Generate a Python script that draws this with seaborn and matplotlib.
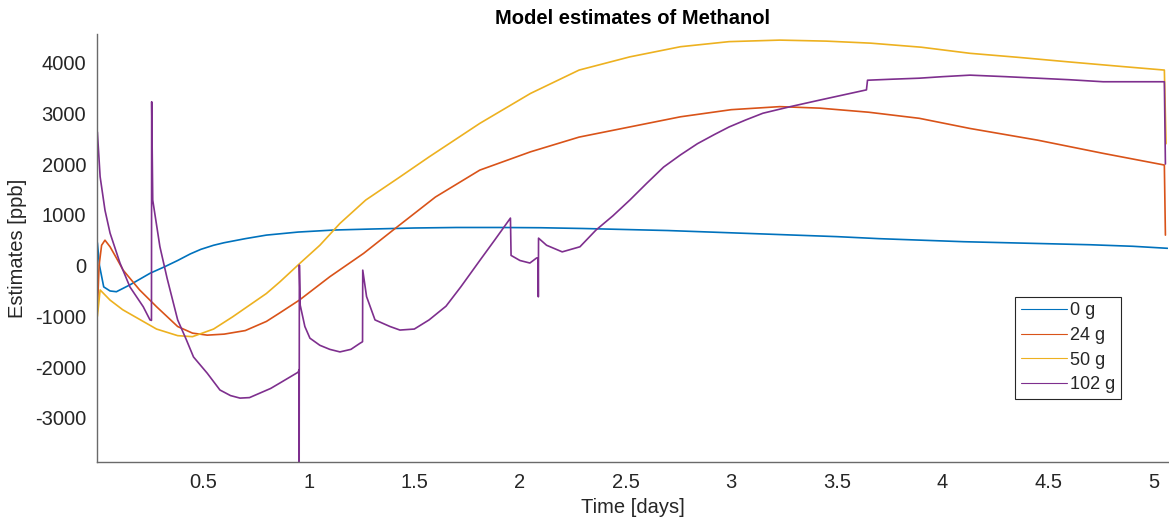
import matplotlib
matplotlib.use("Agg")
import matplotlib.pyplot as plt
import seaborn as sns
import pandas as pd

# ---------------- data ----------------
series_names = ["0 g", "24 g", "50 g", "102 g"]
series_colors = ["#0072BD", "#D95319", "#EDB120", "#7E2F8E"]

t_0g = [0, 0.01, 0.03, 0.06, 0.09, 0.154, 0.25, 0.32, 0.38, 0.44, 0.49, 0.55,
        0.6, 0.7, 0.8, 0.95, 1.12, 1.3, 1.5, 1.7, 1.9, 2.1, 2.3, 2.5, 2.7,
        2.9, 3.1, 3.3, 3.5, 3.7, 3.9, 4.1, 4.3, 4.5, 4.7, 4.9, 5.065]
v_0g = [450, 0, -420, -500, -515, -380, -150, -20, 100, 230, 320, 400,
        450, 530, 600, 660, 700, 720, 740, 750, 750, 745, 730, 710, 690,
        660, 630, 600, 570, 530, 500, 470, 450, 430, 410, 380, 340]

t_24g = [0, 0.008, 0.02, 0.036, 0.06, 0.09, 0.122, 0.2, 0.28, 0.38, 0.45, 0.52,
         0.6, 0.7, 0.8, 0.864, 0.956, 1.1, 1.26, 1.4, 1.6, 1.81, 2.05, 2.28,
         2.52, 2.76, 3.0, 3.23, 3.42, 3.65, 3.89, 4.13, 4.45, 4.76, 5.05, 5.055]
v_24g = [-900, 0, 400, 500, 370, 150, -90, -480, -810, -1200, -1330, -1370,
         -1350, -1280, -1100, -930, -680, -220, 240, 700, 1350, 1880, 2240, 2530,
         2730, 2930, 3070, 3130, 3100, 3020, 2900, 2700, 2470, 2210, 1980, 600]

t_50g = [0, 0.013, 0.06, 0.12, 0.2, 0.28, 0.38, 0.45, 0.55, 0.64, 0.8, 0.864,
         0.96, 1.053, 1.148, 1.27, 1.43, 1.57, 1.81, 2.05, 2.28, 2.52, 2.76,
         2.99, 3.23, 3.45, 3.66, 3.9, 4.13, 4.36, 4.6, 4.85, 5.05, 5.058]
v_50g = [-1000, -480, -680, -870, -1060, -1250, -1380, -1400, -1250, -1010,
         -550, -320, 50, 400, 830, 1290, 1740, 2140, 2800, 3390, 3850, 4110,
         4310, 4410, 4440, 4420, 4380, 4300, 4180, 4100, 4010, 3920, 3850, 2400]

t_102g = [0, 0.013, 0.036, 0.06, 0.107, 0.154, 0.217, 0.249, 0.256, 0.257,
          0.262, 0.296, 0.33, 0.344, 0.38, 0.42, 0.455, 0.52, 0.58, 0.63, 0.675,
          0.72, 0.77, 0.82, 0.865, 0.95, 0.955, 0.955, 0.956, 0.96, 0.982,
          1.006, 1.053, 1.1, 1.148, 1.2, 1.243, 1.255, 1.256, 1.274, 1.314,
          1.385, 1.432, 1.5, 1.57, 1.65, 1.72, 1.81, 1.88, 1.955, 1.958, 2.0,
          2.047, 2.079, 2.086, 2.087, 2.088, 2.126, 2.2, 2.284, 2.36, 2.44,
          2.52, 2.6, 2.68, 2.76, 2.84, 2.92, 2.99, 3.07, 3.15, 3.28, 3.42, 3.53,
          3.64, 3.645, 3.76, 3.89, 4.0, 4.13, 4.3, 4.45, 4.6, 4.76, 4.9, 5.04,
          5.05, 5.055]
v_102g = [2630, 1750, 1090, 640, 50, -420, -810, -1070, -1080, 3225,
          1290, 370, -250, -480, -1070, -1450, -1800, -2120, -2450, -2560, -2610,
          -2600, -2510, -2420, -2310, -2100, -2050, -4300, 10, -780, -1200,
          -1430, -1570, -1650, -1700, -1650, -1530, -1500, -90, -610, -1070,
          -1200, -1270, -1250, -1070, -800, -420, 100, 500, 935, 200, 100,
          50, 150, 150, -615, 540, 400, 270, 370, 700, 980,
          1290, 1620, 1940, 2180, 2400, 2580, 2730, 2870, 3000, 3130, 3260, 3360,
          3460, 3650, 3670, 3690, 3720, 3750, 3720, 3690, 3660, 3620, 3620, 3620,
          3620, 2000]

x_ticks = [0.5, 1, 1.5, 2, 2.5, 3, 3.5, 4, 4.5, 5]
x_ticklabels = ["0.5", "1", "1.5", "2", "2.5", "3", "3.5", "4", "4.5", "5"]
y_ticks = [-3000, -2000, -1000, 0, 1000, 2000, 3000, 4000]
y_ticklabels = ["-3000", "-2000", "-1000", "0", "1000", "2000", "3000", "4000"]

title_text = "Model estimates of Methanol"
x_label = "Time [days]"
y_label = "Estimates [ppb]"

# ---------------- build table ----------------
frames = []
for name, tt, vv in zip(series_names,
                        [t_0g, t_24g, t_50g, t_102g],
                        [v_0g, v_24g, v_50g, v_102g]):
    frames.append(pd.DataFrame({"t": tt, "v": vv, "series": name}))
df = pd.concat(frames, ignore_index=True)

# ---------------- plot ----------------
sns.set_style("white")
plt.rcParams["font.family"] = ["Liberation Sans", "DejaVu Sans"]

fig = plt.figure(figsize=(11.69, 5.29), dpi=100)
ax = fig.add_axes([0.0833, 0.126, 0.9158, 0.8097])

sns.lineplot(data=df, x="t", y="v", hue="series", hue_order=series_names,
             palette=dict(zip(series_names, series_colors)),
             estimator=None, sort=False, linewidth=1.2, ax=ax)

ax.set_xlim(0, 5.067)
ax.set_ylim(-3875, 4560)
ax.set_xticks(x_ticks)
ax.set_xticklabels(x_ticklabels)
ax.set_yticks(y_ticks)
ax.set_yticklabels(y_ticklabels)

for s in ["top", "right"]:
    ax.spines[s].set_visible(False)
for s in ["left", "bottom"]:
    ax.spines[s].set_color("#6a6a6a")
    ax.spines[s].set_linewidth(1.0)

ax.tick_params(axis="both", direction="in", length=9, width=1.0,
               color="#6a6a6a", labelsize=14.5, labelcolor="#262626", pad=8)

ax.set_title(title_text, fontsize=14.5, fontweight="bold", color="black", pad=7)
ax.set_xlabel(x_label, fontsize=14.5, color="#262626", labelpad=4)
ax.set_ylabel(y_label, fontsize=14.5, color="#262626", labelpad=6)

leg = ax.legend(loc="upper right", bbox_to_anchor=(0.956, 0.386),
                fontsize=13, frameon=True, fancybox=False, framealpha=1,
                handlelength=2.6, handletextpad=0.15, labelspacing=0.42,
                borderpad=0.3, borderaxespad=0)
leg.get_frame().set_edgecolor("#262626")
leg.get_frame().set_linewidth(0.8)
for line in leg.get_lines():
    line.set_linewidth(0.8)

fig.savefig("out.png", dpi=100)
